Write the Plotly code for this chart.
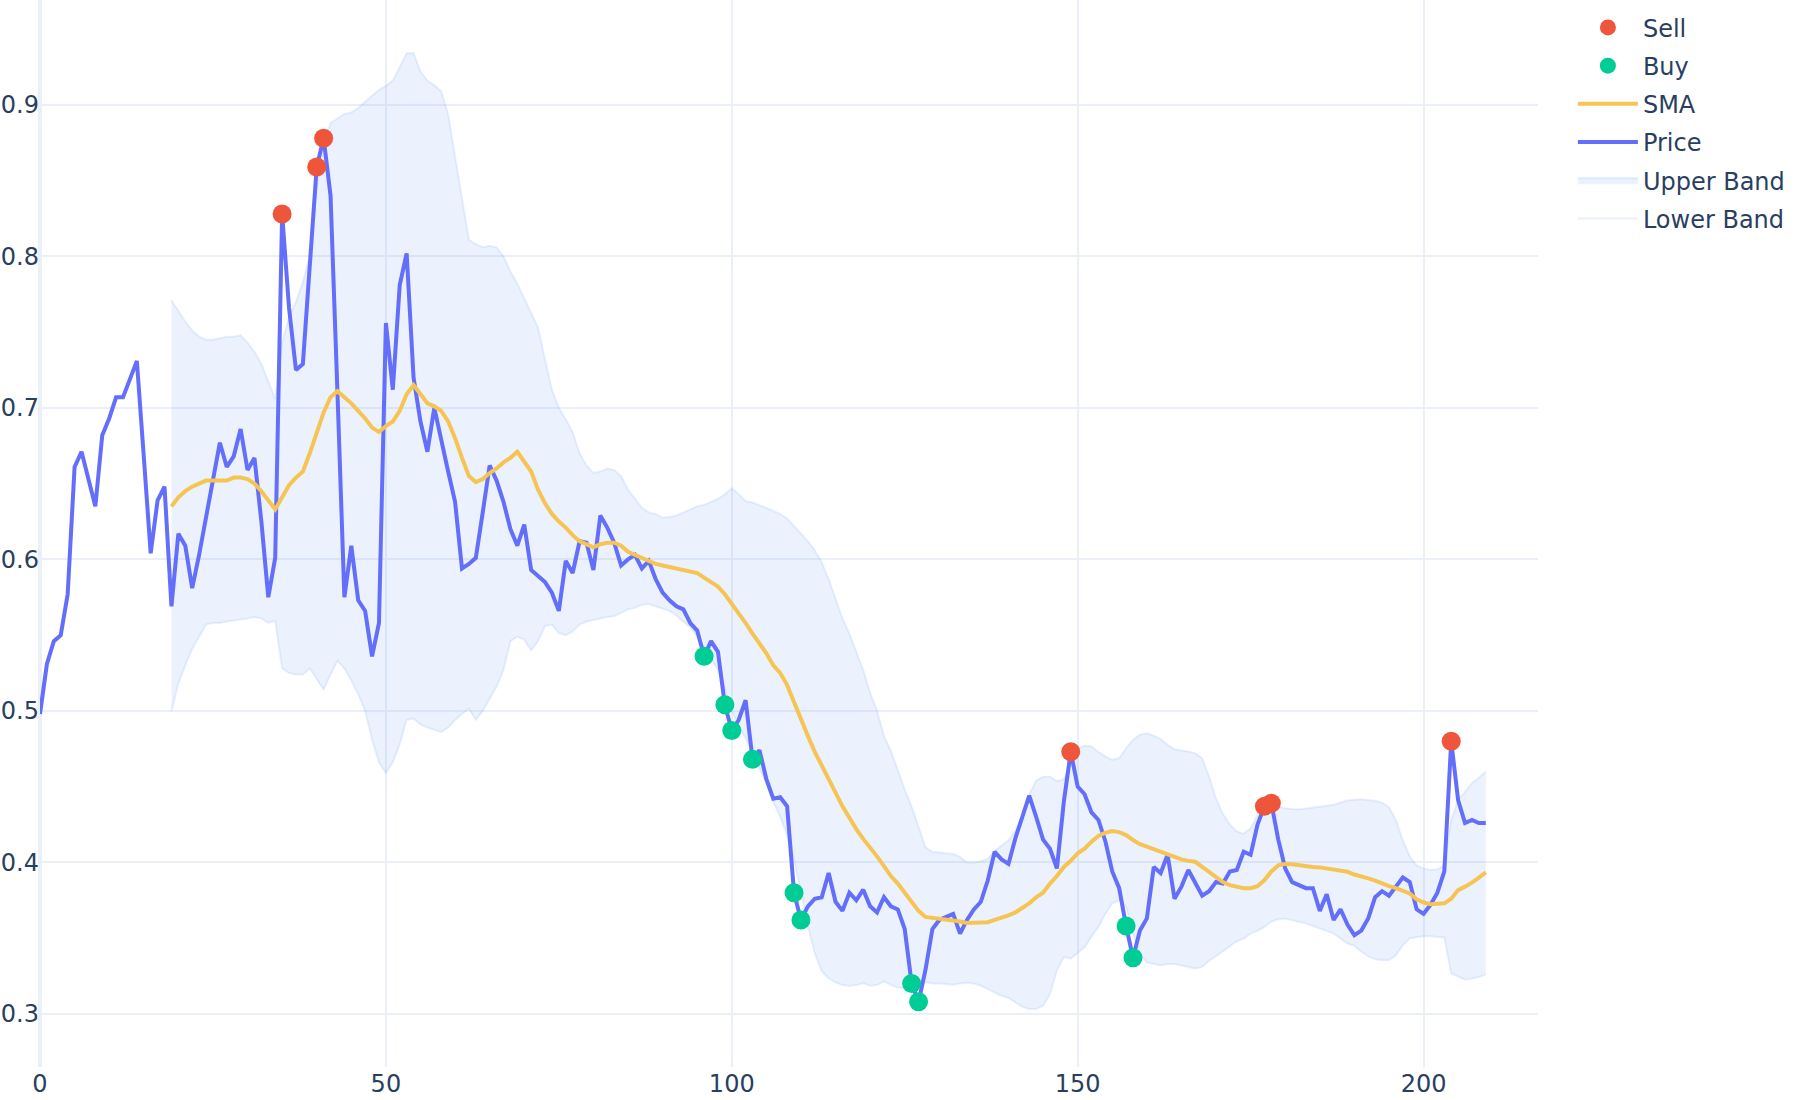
import plotly.graph_objects as go

price = [0.498, 0.531, 0.546, 0.550, 0.577, 0.661, 0.671, 0.652, 0.635, 0.682,
         0.693, 0.707, 0.707, 0.719, 0.731, 0.668, 0.604, 0.639, 0.648, 0.569,
         0.617, 0.609, 0.581, 0.603, 0.628, 0.655, 0.677, 0.661, 0.668, 0.686,
         0.659, 0.667, 0.625, 0.575, 0.601, 0.828, 0.766, 0.725, 0.729, 0.794,
         0.859, 0.878, 0.840, 0.710, 0.575, 0.609, 0.573, 0.566, 0.536, 0.558,
         0.756, 0.712, 0.781, 0.802, 0.720, 0.691, 0.671, 0.700, 0.678, 0.658,
         0.638, 0.594, 0.597, 0.601, 0.631, 0.662, 0.652, 0.638, 0.620, 0.609,
         0.623, 0.593, 0.589, 0.585, 0.578, 0.566, 0.599, 0.591, 0.612, 0.611,
         0.593, 0.629, 0.621, 0.611, 0.596, 0.600, 0.603, 0.594, 0.599, 0.587,
         0.578, 0.573, 0.569, 0.567, 0.558, 0.553, 0.536, 0.546, 0.539, 0.504,
         0.487, 0.494, 0.507, 0.468, 0.474, 0.455, 0.442, 0.443, 0.437, 0.380,
         0.362, 0.371, 0.376, 0.377, 0.393, 0.374, 0.368, 0.380, 0.375, 0.382,
         0.371, 0.367, 0.377, 0.371, 0.369, 0.356, 0.320, 0.308, 0.329, 0.356,
         0.362, 0.364, 0.366, 0.353, 0.362, 0.369, 0.374, 0.388, 0.407, 0.402,
         0.399, 0.416, 0.430, 0.444, 0.430, 0.415, 0.409, 0.396, 0.440, 0.473,
         0.450, 0.445, 0.433, 0.428, 0.414, 0.394, 0.383, 0.358, 0.337, 0.355,
         0.363, 0.397, 0.393, 0.405, 0.376, 0.384, 0.395, 0.387, 0.378, 0.381,
         0.387, 0.386, 0.394, 0.395, 0.407, 0.405, 0.425, 0.437, 0.439, 0.415,
         0.396, 0.387, 0.385, 0.383, 0.383, 0.368, 0.379, 0.362, 0.369, 0.359,
         0.352, 0.355, 0.363, 0.377, 0.381, 0.378, 0.384, 0.390, 0.387, 0.369,
         0.366, 0.372, 0.380, 0.394, 0.480, 0.441, 0.426, 0.428, 0.426, 0.426]

sma = [0.635, 0.641, 0.645, 0.648, 0.650, 0.652, 0.652, 0.652, 0.652, 0.654, 0.654,
       0.653, 0.650, 0.645, 0.639, 0.633, 0.641, 0.649, 0.654, 0.658, 0.670,
       0.684, 0.697, 0.707, 0.711, 0.707, 0.703, 0.698, 0.693, 0.687, 0.684,
       0.688, 0.691, 0.698, 0.709, 0.715, 0.709, 0.703, 0.701, 0.698, 0.691,
       0.680, 0.667, 0.655, 0.651, 0.653, 0.657, 0.660, 0.664, 0.667, 0.671,
       0.665, 0.658, 0.646, 0.637, 0.630, 0.625, 0.621, 0.616, 0.612, 0.610,
       0.608, 0.610, 0.611, 0.611, 0.609, 0.605, 0.603, 0.601, 0.599, 0.597,
       0.596, 0.595, 0.594, 0.593, 0.592, 0.591, 0.588, 0.585, 0.582, 0.577,
       0.571, 0.565, 0.558, 0.551, 0.545, 0.538, 0.530, 0.525, 0.517, 0.5055,
       0.4945, 0.4835, 0.473, 0.4636, 0.455, 0.446, 0.437, 0.429, 0.422, 0.4155,
       0.410, 0.404, 0.3975, 0.391, 0.386, 0.380, 0.374, 0.368, 0.364, 0.3634,
       0.363, 0.3627, 0.362, 0.361, 0.360, 0.360, 0.360, 0.3605, 0.362, 0.3634,
       0.365, 0.367, 0.370, 0.373, 0.377, 0.380, 0.386, 0.391, 0.397, 0.401,
       0.406, 0.409, 0.4137, 0.4174, 0.4196, 0.4207, 0.420, 0.418, 0.4148, 0.412,
       0.4104, 0.4086, 0.407, 0.405, 0.4037, 0.402, 0.401, 0.4004, 0.397, 0.3938,
       0.3905, 0.387, 0.385, 0.3838, 0.383, 0.383, 0.3843, 0.3883, 0.394, 0.398,
       0.399, 0.3987, 0.398, 0.3978, 0.397, 0.3967, 0.396, 0.3954, 0.3945, 0.3938,
       0.392, 0.391, 0.3894, 0.388, 0.386, 0.3843, 0.383, 0.381, 0.3795, 0.3757,
       0.3735, 0.3724, 0.3724, 0.373, 0.376, 0.3817, 0.384, 0.3866, 0.390, 0.3934]

upper = [0.771, 0.764, 0.757, 0.751, 0.747, 0.745, 0.745, 0.746, 0.747, 0.747, 0.748,
         0.743, 0.737, 0.729, 0.718, 0.706, 0.743, 0.760, 0.770, 0.783, 0.800,
         0.845, 0.875, 0.888, 0.891, 0.894, 0.895, 0.898, 0.902, 0.906, 0.910,
         0.9125, 0.916, 0.925, 0.934, 0.934, 0.922, 0.916, 0.913, 0.909, 0.894,
         0.866, 0.838, 0.811, 0.808, 0.806, 0.807, 0.806, 0.800, 0.790, 0.782,
         0.772, 0.762, 0.753, 0.732, 0.712, 0.700, 0.6925, 0.684, 0.670, 0.662,
         0.657, 0.658, 0.660, 0.659, 0.655, 0.646, 0.640, 0.634, 0.631, 0.630,
         0.6275, 0.628, 0.629, 0.631, 0.633, 0.635, 0.636, 0.638, 0.640, 0.643,
         0.647, 0.643, 0.6385, 0.6375, 0.636, 0.634, 0.632, 0.630, 0.627, 0.622,
         0.617, 0.612, 0.606, 0.598, 0.587, 0.574, 0.561, 0.551, 0.539, 0.527,
         0.512, 0.500, 0.4835, 0.4735, 0.461, 0.448, 0.437, 0.424, 0.410, 0.407,
         0.4064, 0.406, 0.4057, 0.4035, 0.400, 0.400, 0.4007, 0.4024, 0.4075, 0.411,
         0.4146, 0.421, 0.431, 0.445, 0.454, 0.4565, 0.4565, 0.4536, 0.455, 0.465,
         0.4754, 0.477, 0.4765, 0.473, 0.470, 0.4677, 0.4688, 0.4754, 0.481, 0.4842,
         0.4853, 0.4836, 0.4814, 0.4776, 0.4747, 0.4739, 0.4732, 0.472, 0.4688, 0.4567,
         0.442, 0.432, 0.425, 0.4205, 0.419, 0.4225, 0.4313, 0.4357, 0.438, 0.4368,
         0.4357, 0.4353, 0.435, 0.4355, 0.436, 0.4368, 0.4373, 0.438, 0.4395, 0.4408,
         0.4414, 0.4417, 0.4411, 0.4407, 0.4395, 0.4364, 0.428, 0.4148, 0.404, 0.398,
         0.396, 0.395, 0.3954, 0.398, 0.428, 0.4412, 0.4467, 0.4523, 0.456, 0.460]

lower = [0.4996, 0.518, 0.530, 0.541, 0.549, 0.557, 0.558, 0.558, 0.559, 0.5595, 0.560,
         0.561, 0.562, 0.561, 0.558, 0.5595, 0.528, 0.525, 0.524, 0.524, 0.528,
         0.521, 0.514, 0.524, 0.533, 0.528, 0.520, 0.511, 0.500, 0.481, 0.466,
         0.459, 0.466, 0.478, 0.494, 0.495, 0.491, 0.489, 0.4875, 0.486, 0.489,
         0.494, 0.498, 0.5016, 0.494, 0.500, 0.508, 0.516, 0.527, 0.546, 0.549,
         0.547, 0.540, 0.546, 0.556, 0.557, 0.5514, 0.550, 0.5525, 0.557, 0.559,
         0.560, 0.5606, 0.562, 0.5624, 0.5646, 0.567, 0.568, 0.570, 0.5705, 0.569,
         0.568, 0.566, 0.563, 0.559, 0.555, 0.549, 0.5416, 0.534, 0.527, 0.515,
         0.500, 0.490, 0.482, 0.472, 0.462, 0.452, 0.440, 0.430, 0.418, 0.402,
         0.380, 0.358, 0.340, 0.328, 0.3235, 0.3207, 0.319, 0.3185, 0.319, 0.3203,
         0.3185, 0.319, 0.3214, 0.319, 0.3174, 0.317, 0.322, 0.3208, 0.3208, 0.320,
         0.320, 0.3197, 0.3193, 0.320, 0.3206, 0.320, 0.3186, 0.3164, 0.3142, 0.312,
         0.3105, 0.3076, 0.3047, 0.3032, 0.3032, 0.3054, 0.313, 0.3286, 0.3374, 0.3365,
         0.340, 0.344, 0.351, 0.3574, 0.366, 0.373, 0.375, 0.3707, 0.353, 0.340,
         0.334, 0.333, 0.332, 0.333, 0.333, 0.332, 0.331, 0.330, 0.331, 0.335,
         0.338, 0.3415, 0.345, 0.348, 0.3497, 0.353, 0.3548, 0.3574, 0.361, 0.3625,
         0.363, 0.362, 0.3607, 0.3596, 0.358, 0.3563, 0.3548, 0.353, 0.3497, 0.3464,
         0.345, 0.341, 0.338, 0.336, 0.3354, 0.3354, 0.3387, 0.3453, 0.3497, 0.3508,
         0.3513, 0.3513, 0.3508, 0.3504, 0.3266, 0.3244, 0.3226, 0.3233, 0.3244, 0.3261]

buy_idx = [96, 99, 100, 103, 109, 110, 126, 127, 157, 158]
sell_idx = [35, 40, 41, 149, 177, 178, 204]

x_price = list(range(len(price)))
band_start = len(price) - len(sma)
x_band = list(range(band_start, len(price)))

band_line = "rgba(70,140,240,0.12)"
band_fill = "rgba(70,140,240,0.11)"

fig = go.Figure()
fig.add_trace(go.Scatter(x=x_band, y=lower, mode="lines", name="Lower Band",
                         legendgroup="lower", legendrank=6,
                         line=dict(color=band_line, width=2)))
fig.add_trace(go.Scatter(x=x_band, y=upper, mode="lines", name="Upper Band",
                         legendgroup="upper", legendrank=5,
                         line=dict(color=band_line, width=2), fill="tonexty",
                         fillcolor=band_fill))
fig.add_trace(go.Scatter(x=x_price, y=price, mode="lines", name="Price",
                         legendgroup="price", legendrank=4,
                         line=dict(color="#636EFA", width=4)))
fig.add_trace(go.Scatter(x=x_band, y=sma, mode="lines", name="SMA",
                         legendgroup="sma", legendrank=3,
                         line=dict(color="#F5C453", width=4)))
fig.add_trace(go.Scatter(x=buy_idx, y=[price[i] for i in buy_idx], mode="markers",
                         name="Buy", legendgroup="buy", legendrank=2,
                         marker=dict(color="#00CC96", size=19)))
fig.add_trace(go.Scatter(x=sell_idx, y=[price[i] for i in sell_idx], mode="markers",
                         name="Sell", legendgroup="sell", legendrank=1,
                         marker=dict(color="#EF553B", size=19)))

fig.update_layout(
    template="plotly_white",
    width=1800, height=1100,
    margin=dict(l=40, r=262, t=0, b=33),
    font=dict(family="DejaVu Sans", size=24, color="#2a3f5f"),
    legend=dict(x=1.0233, y=0.995, xanchor="left", yanchor="top",
                traceorder="grouped", tracegroupgap=4, itemwidth=60,
                font=dict(size=24)),
    xaxis=dict(automargin=False, gridwidth=2, zerolinewidth=4),
    yaxis=dict(automargin=False, gridwidth=2, zerolinewidth=4),
)
fig.write_html("out.html")
